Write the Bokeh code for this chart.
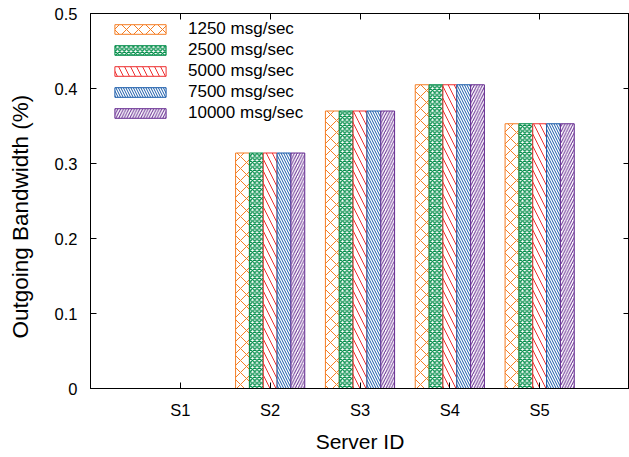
import numpy as np
from bokeh.plotting import figure
from bokeh.models import (ColumnDataSource, FixedTicker, LinearAxis, Range1d,
                          Legend, LegendItem)
from bokeh.embed import file_html
from bokeh.resources import INLINE

# ---------------- data ----------------
servers = ["S1", "S2", "S3", "S4", "S5"]
rates = ["1250 msg/sec", "2500 msg/sec", "5000 msg/sec", "7500 msg/sec", "10000 msg/sec"]
bw_1250 = [0.0, 0.314, 0.370, 0.405, 0.353]
bw_2500 = [0.0, 0.314, 0.370, 0.405, 0.353]
bw_5000 = [0.0, 0.314, 0.370, 0.405, 0.353]
bw_7500 = [0.0, 0.314, 0.370, 0.405, 0.353]
bw_10000 = [0.0, 0.314, 0.370, 0.405, 0.353]
series = [bw_1250, bw_2500, bw_5000, bw_7500, bw_10000]
y_ticks = [0, 0.1, 0.2, 0.3, 0.4, 0.5]
y_tick_labels = ["0", "0.1", "0.2", "0.3", "0.4", "0.5"]

# ---------------- style ----------------
colors = ["#F47D23", "#008C48", "#EE2E2F", "#185AA9", "#662C91"]
hatches = ["x", "x", "\\", "\\", "/"]
hatch_scales = [12, 4.5, 12, 5, 5.5]
hatch_weights = [1, 1.3, 1, 1, 1]
FONT = "Liberation Sans"
bar_w = 0.154

x_pos = np.arange(1, len(servers) + 1)

p = figure(width=629, height=457, output_backend="svg", toolbar_location=None,
           x_range=Range1d(0, len(servers) + 1), y_range=Range1d(0, 0.5),
           min_border_left=90, min_border_right=0, min_border_top=13,
           min_border_bottom=69)
p.xgrid.visible = False
p.ygrid.visible = False
p.outline_line_color = "black"
p.outline_line_width = 1
p.background_fill_color = "white"

items = []
n = len(series)
for i, (vals, lab) in enumerate(zip(series, rates)):
    off = (i - (n - 1) / 2) * bar_w
    src = ColumnDataSource(dict(x=x_pos + off, top=vals))
    r = p.vbar(x="x", top="top", bottom=0, width=bar_w, source=src,
               fill_color="white", line_color=colors[i], line_width=1,
               hatch_pattern=hatches[i], hatch_color=colors[i],
               hatch_scale=hatch_scales[i], hatch_weight=hatch_weights[i])
    items.append(LegendItem(label=lab, renderers=[r]))

legend = Legend(items=items, location=(18, 265), padding=0, margin=0,
                glyph_width=64, glyph_height=12, label_height=20, spacing=1,
                label_standoff=16, label_text_font=FONT,
                label_text_font_size="17px", label_text_color="black",
                border_line_alpha=0, background_fill_alpha=0)
p.add_layout(legend)

xt = FixedTicker(ticks=list(x_pos))
yt = FixedTicker(ticks=y_ticks)
x_over = {int(k): s for k, s in zip(x_pos, servers)}
y_over = {k: s for k, s in zip(y_ticks, y_tick_labels)}


def style(ax):
    ax.major_tick_in = 6
    ax.major_tick_out = 0
    ax.minor_tick_line_color = None
    ax.axis_line_color = "black"
    ax.major_tick_line_color = "black"
    ax.major_label_text_font = FONT
    ax.major_label_text_color = "black"
    ax.axis_label_text_font = FONT
    ax.axis_label_text_font_style = "normal"
    ax.axis_label_text_color = "black"


xa = p.xaxis[0]
xa.ticker = xt
xa.major_label_overrides = x_over
xa.axis_label = "Server ID"
style(xa)
xa.major_label_text_font_size = "16.5px"
xa.axis_label_text_font_size = "21px"
xa.major_label_standoff = 12
xa.axis_label_standoff = 8

ya = p.yaxis[0]
ya.ticker = yt
ya.major_label_overrides = y_over
ya.axis_label = "Outgoing Bandwidth (%)" + "\u00a0" * 5
style(ya)
ya.major_label_text_font_size = "16.5px"
ya.axis_label_text_font_size = "22.5px"
ya.major_label_standoff = 13
ya.axis_label_standoff = 19

top_ax = LinearAxis(ticker=FixedTicker(ticks=list(x_pos)))
style(top_ax)
top_ax.major_label_overrides = {int(k): "" for k in x_pos}
top_ax.major_label_standoff = 0
top_ax.axis_label_standoff = 0
top_ax.major_label_text_font_size = "0px"
p.add_layout(top_ax, "above")

right_ax = LinearAxis(ticker=FixedTicker(ticks=y_ticks))
style(right_ax)
right_ax.major_label_overrides = {k: "" for k in y_ticks}
right_ax.major_label_standoff = 0
right_ax.axis_label_standoff = 0
right_ax.major_label_text_font_size = "0px"
p.add_layout(right_ax, "right")

open("out.html", "w").write(file_html(p, INLINE))
